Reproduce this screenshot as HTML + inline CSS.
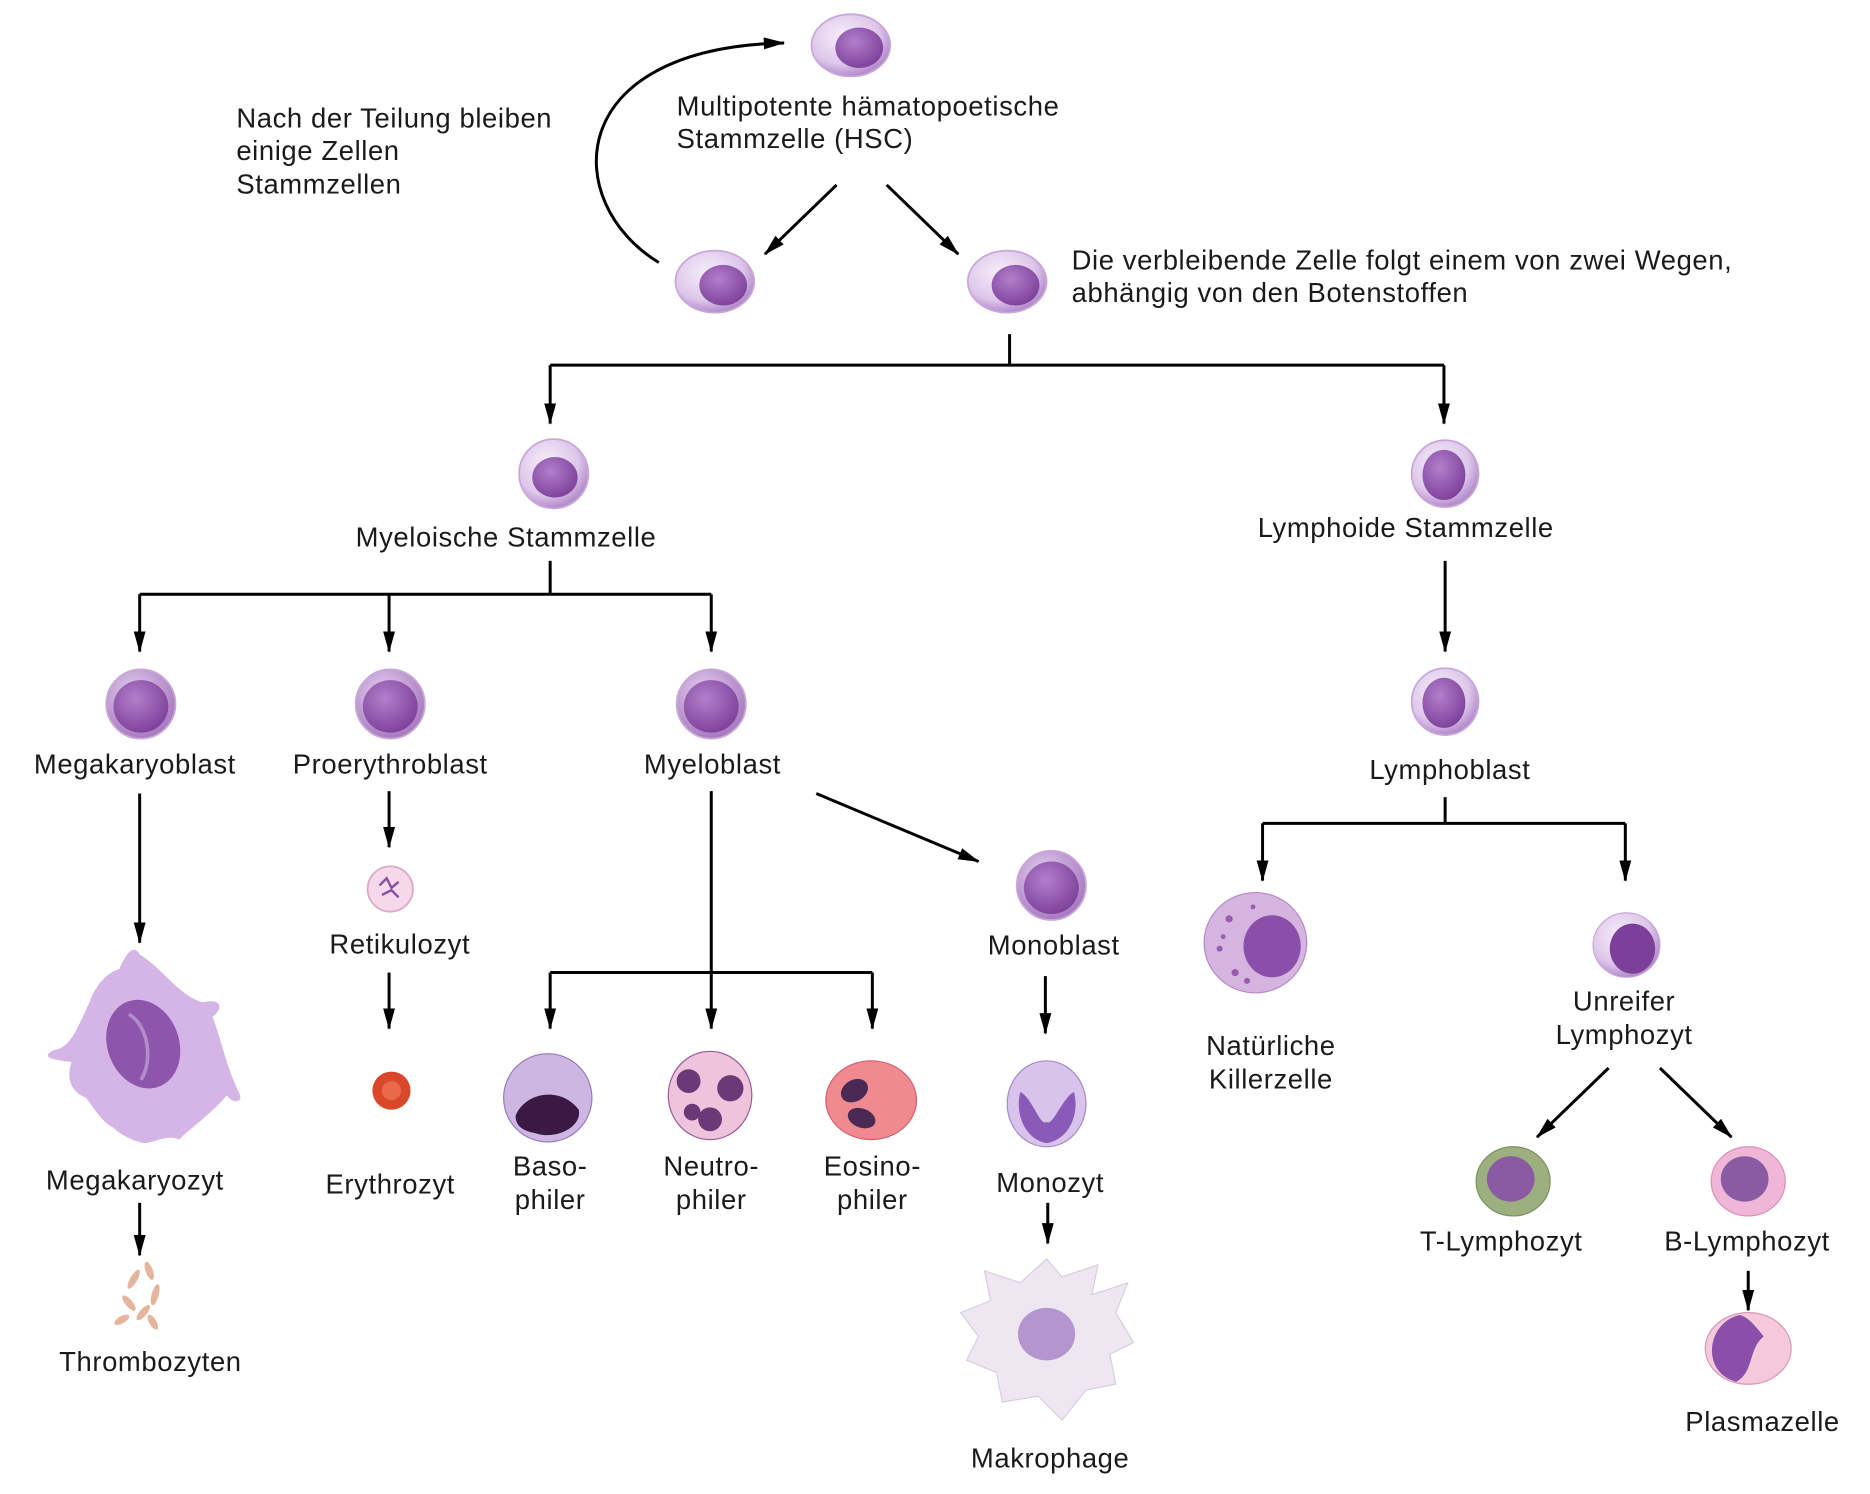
<!DOCTYPE html>
<html><head><meta charset="utf-8"><style>
html,body{margin:0;padding:0;background:#fff;}
svg{display:block;}
text{font-family:"Liberation Sans",sans-serif;font-size:23px;letter-spacing:0.5px;fill:#1a1a1a;}
</style></head><body>
<svg width="1870" height="1494" viewBox="0 0 1567 1252" xmlns="http://www.w3.org/2000/svg">
<defs>
<marker id="a" markerWidth="18" markerHeight="10" refX="17" refY="5" orient="auto" markerUnits="userSpaceOnUse" viewBox="0 0 18 10"><path d="M0,0 L18,5 L0,10 Z" fill="#000"/></marker>
<radialGradient id="cy" cx="40%" cy="35%" r="65%"><stop offset="0" stop-color="#f6eefa"/><stop offset="0.7" stop-color="#ddc6ea"/><stop offset="1" stop-color="#b48bcb"/></radialGradient>
<radialGradient id="nu" cx="40%" cy="35%" r="70%"><stop offset="0" stop-color="#b27fca"/><stop offset="1" stop-color="#7c3f9a"/></radialGradient>
<radialGradient id="cy2" cx="40%" cy="35%" r="65%"><stop offset="0" stop-color="#e7d3f0"/><stop offset="1" stop-color="#a87ac0"/></radialGradient>
</defs>
<g fill="none" stroke="#000" stroke-width="2.5">
<path d="M552,220 C470,170 470,40 657,36" marker-end="url(#a)"/>
<line x1="701" y1="155" x2="641" y2="213" marker-end="url(#a)"/>
<line x1="743" y1="155" x2="803" y2="213" marker-end="url(#a)"/>
<polyline points="846,280 846,306"/>
<polyline points="461,306 1210,306"/>
<line x1="461" y1="306" x2="461" y2="355" marker-end="url(#a)"/>
<line x1="1210" y1="306" x2="1210" y2="355" marker-end="url(#a)"/>
<polyline points="461,470 461,498"/>
<polyline points="117,498 596,498"/>
<line x1="117" y1="498" x2="117" y2="546" marker-end="url(#a)"/>
<line x1="326" y1="498" x2="326" y2="546" marker-end="url(#a)"/>
<line x1="596" y1="498" x2="596" y2="546" marker-end="url(#a)"/>
<line x1="1211" y1="470" x2="1211" y2="546" marker-end="url(#a)"/>
<line x1="117" y1="665" x2="117" y2="790" marker-end="url(#a)"/>
<line x1="326" y1="663" x2="326" y2="710" marker-end="url(#a)"/>
<line x1="326" y1="815" x2="326" y2="862" marker-end="url(#a)"/>
<line x1="596" y1="663" x2="596" y2="862" marker-end="url(#a)"/>
<polyline points="461,815 731,815"/>
<line x1="461" y1="815" x2="461" y2="862" marker-end="url(#a)"/>
<line x1="731" y1="815" x2="731" y2="862" marker-end="url(#a)"/>
<line x1="684" y1="665" x2="820" y2="722" marker-end="url(#a)"/>
<line x1="876" y1="818" x2="876" y2="866" marker-end="url(#a)"/>
<line x1="878" y1="1008" x2="878" y2="1042" marker-end="url(#a)"/>
<line x1="117" y1="1008" x2="117" y2="1052" marker-end="url(#a)"/>
<polyline points="1211,668 1211,690"/>
<polyline points="1058,690 1362,690"/>
<line x1="1058" y1="690" x2="1058" y2="738" marker-end="url(#a)"/>
<line x1="1362" y1="690" x2="1362" y2="738" marker-end="url(#a)"/>
<line x1="1348" y1="895" x2="1288" y2="953" marker-end="url(#a)"/>
<line x1="1391" y1="895" x2="1451" y2="953" marker-end="url(#a)"/>
<line x1="1465" y1="1065" x2="1465" y2="1098" marker-end="url(#a)"/>
</g>
<g stroke="#c9a8d9" stroke-width="1.5">
<ellipse cx="713" cy="38" rx="33" ry="26" fill="url(#cy)"/><ellipse cx="720" cy="40" rx="20" ry="17" fill="url(#nu)" stroke="none"/>
<ellipse cx="599" cy="236" rx="33" ry="26" fill="url(#cy)"/><ellipse cx="606" cy="239" rx="20" ry="17" fill="url(#nu)" stroke="none"/>
<ellipse cx="844" cy="236" rx="33" ry="26" fill="url(#cy)"/><ellipse cx="851" cy="239" rx="20" ry="17" fill="url(#nu)" stroke="none"/>
<ellipse cx="464" cy="397" rx="29" ry="29" fill="url(#cy)"/><ellipse cx="465" cy="400" rx="19" ry="17" fill="url(#nu)" stroke="none"/>
<ellipse cx="1211" cy="397" rx="28" ry="28" fill="url(#cy)"/><ellipse cx="1210" cy="398" rx="18" ry="21" fill="url(#nu)" stroke="none"/>
<ellipse cx="118" cy="590" rx="29" ry="29" fill="url(#cy2)"/><ellipse cx="118" cy="592" rx="23" ry="22" fill="url(#nu)" stroke="none"/>
<ellipse cx="327" cy="590" rx="29" ry="29" fill="url(#cy2)"/><ellipse cx="327" cy="592" rx="23" ry="22" fill="url(#nu)" stroke="none"/>
<ellipse cx="596" cy="590" rx="29" ry="29" fill="url(#cy2)"/><ellipse cx="596" cy="592" rx="23" ry="22" fill="url(#nu)" stroke="none"/>
<ellipse cx="1211" cy="588" rx="28" ry="28" fill="url(#cy)"/><ellipse cx="1210" cy="589" rx="18" ry="21" fill="url(#nu)" stroke="none"/>
<ellipse cx="881" cy="742" rx="29" ry="29" fill="url(#cy2)"/><ellipse cx="881" cy="744" rx="23" ry="22" fill="url(#nu)" stroke="none"/>
</g>
<g>
<path d="M117,800 C135,810 150,835 170,840 C185,836 188,845 178,852 C185,870 190,895 200,915 C205,925 195,925 190,918 C175,935 160,945 150,955 C140,950 130,958 120,958 C108,955 100,950 95,945 C85,940 80,930 72,920 C60,915 55,905 60,890 C40,888 35,885 45,880 C60,878 65,860 75,840 C80,825 90,815 100,812 C105,800 112,790 117,800 Z" fill="#d4b5e6"/>
<ellipse cx="120" cy="875" rx="30" ry="38" transform="rotate(-20 120 875)" fill="#8e55ad"/>
<path d="M108,850 C125,860 128,890 118,905" stroke="#b58ccb" stroke-width="3" fill="none"/>
</g>
<g fill="#e5b49c">
<ellipse cx="112" cy="1072" rx="3" ry="9" transform="rotate(30 112 1072)"/>
<ellipse cx="125" cy="1065" rx="3" ry="8" transform="rotate(-20 125 1065)"/>
<ellipse cx="130" cy="1085" rx="3" ry="9" transform="rotate(15 130 1085)"/>
<ellipse cx="108" cy="1092" rx="3" ry="8" transform="rotate(-40 108 1092)"/>
<ellipse cx="120" cy="1100" rx="3" ry="8" transform="rotate(40 120 1100)"/>
<ellipse cx="102" cy="1106" rx="3" ry="7" transform="rotate(60 102 1106)"/>
<ellipse cx="128" cy="1108" rx="3" ry="7" transform="rotate(-30 128 1108)"/>
</g>
<circle cx="327" cy="745" r="19" fill="#f5d8ea" stroke="#e0a8c8" stroke-width="1.5"/>
<path d="M318,742 l6,-6 l4,8 l6,-5 M320,750 l8,-4 l6,6" stroke="#8a4fa5" stroke-width="2" fill="none"/>
<ellipse cx="328" cy="914" rx="16" ry="16" fill="#d9482a"/><ellipse cx="328" cy="914" rx="8" ry="8" fill="#e86a4a"/>
<circle cx="459" cy="920" r="37" fill="#cdb6e2" stroke="#9a7abb"/>
<path d="M432,935 C440,915 470,910 485,930 C488,945 465,955 450,950 C440,948 432,945 432,935 Z" fill="#3a1a45"/>
<ellipse cx="595" cy="918" rx="35" ry="37" fill="#eec4dd" stroke="#9a5a95"/>
<circle cx="577" cy="906" r="10" fill="#6a3a78"/><circle cx="612" cy="912" r="11" fill="#6a3a78"/><circle cx="595" cy="938" r="10" fill="#6a3a78"/><circle cx="580" cy="932" r="7" fill="#6a3a78"/>
<ellipse cx="730" cy="922" rx="38" ry="33" fill="#f08a90" stroke="#d36070"/>
<ellipse cx="716" cy="914" rx="12" ry="9" transform="rotate(-30 716 914)" fill="#4a2a55"/><ellipse cx="722" cy="937" rx="12" ry="8" transform="rotate(20 722 937)" fill="#4a2a55"/>
<ellipse cx="877" cy="925" rx="33" ry="36" fill="#d8c3ec" stroke="#a888c6"/>
<path d="M855,915 C865,920 872,945 877,940 C882,945 890,920 900,915 C905,935 895,955 877,958 C860,955 850,935 855,915 Z" fill="#8a5ab8"/>
<path d="M877,1055 L890,1070 L920,1060 L915,1085 L945,1075 L935,1100 L950,1125 L930,1135 L935,1160 L910,1165 L890,1190 L870,1170 L840,1175 L835,1150 L810,1140 L820,1120 L805,1100 L830,1090 L825,1065 L855,1075 Z" fill="#eee7f1" stroke="#d8cde0"/>
<ellipse cx="877" cy="1118" rx="24" ry="22" fill="#b495d0"/>
<ellipse cx="1052" cy="790" rx="43" ry="42" fill="#d6b4e0" stroke="#b58ac9"/>
<ellipse cx="1066" cy="793" rx="24" ry="26" fill="#8a4fa8"/>
<g fill="#9a5ab0"><circle cx="1030" cy="770" r="3"/><circle cx="1022" cy="795" r="2.5"/><circle cx="1035" cy="815" r="3"/><circle cx="1050" cy="760" r="2"/><circle cx="1025" cy="785" r="2"/><circle cx="1045" cy="822" r="2.5"/></g>
<ellipse cx="1363" cy="792" rx="28" ry="27" fill="url(#cy)" stroke="#c9a8d9"/><ellipse cx="1368" cy="795" rx="19" ry="21" fill="#7c3f9a"/>
<ellipse cx="1268" cy="990" rx="31" ry="29" fill="#9bb07e" stroke="#7c9060"/><ellipse cx="1266" cy="988" rx="20" ry="19" fill="#8a5aa3"/>
<ellipse cx="1465" cy="990" rx="31" ry="29" fill="#f0b6d8" stroke="#d890b8"/><ellipse cx="1462" cy="988" rx="20" ry="19" fill="#8a5aa3"/>
<ellipse cx="1465" cy="1130" rx="36" ry="30" fill="#f6c8dc" stroke="#d89ab8"/>
<path d="M1458,1102 C1430,1108 1425,1150 1455,1158 C1470,1150 1465,1130 1478,1120 C1470,1110 1465,1104 1458,1102 Z" fill="#8a4fa8"/>
<text x="567" y="97">Multipotente hämatopoetische</text>
<text x="567" y="124">Stammzelle (HSC)</text>
<text x="198" y="107">Nach der Teilung bleiben</text>
<text x="198" y="134">einige Zellen</text>
<text x="198" y="162">Stammzellen</text>
<text x="898" y="226">Die verbleibende Zelle folgt einem von zwei Wegen,</text>
<text x="898" y="253">abhängig von den Botenstoffen</text>
<g text-anchor="middle">
<text x="424" y="458">Myeloische Stammzelle</text>
<text x="1178" y="450">Lymphoide Stammzelle</text>
<text x="113" y="648">Megakaryoblast</text>
<text x="327" y="648">Proerythroblast</text>
<text x="597" y="648">Myeloblast</text>
<text x="1215" y="653">Lymphoblast</text>
<text x="335" y="799">Retikulozyt</text>
<text x="883" y="800">Monoblast</text>
<text x="1065" y="884">Natürliche</text>
<text x="1065" y="912">Killerzelle</text>
<text x="1361" y="847">Unreifer</text>
<text x="1361" y="875">Lymphozyt</text>
<text x="461" y="985">Baso-</text><text x="461" y="1013">philer</text>
<text x="596" y="985">Neutro-</text><text x="596" y="1013">philer</text>
<text x="731" y="985">Eosino-</text><text x="731" y="1013">philer</text>
<text x="113" y="997">Megakaryozyt</text>
<text x="327" y="1000">Erythrozyt</text>
<text x="880" y="999">Monozyt</text>
<text x="1258" y="1048">T-Lymphozyt</text>
<text x="1464" y="1048">B-Lymphozyt</text>
<text x="126" y="1149">Thrombozyten</text>
<text x="1477" y="1199">Plasmazelle</text>
<text x="880" y="1230">Makrophage</text>
</g>
</svg>
</body></html>
